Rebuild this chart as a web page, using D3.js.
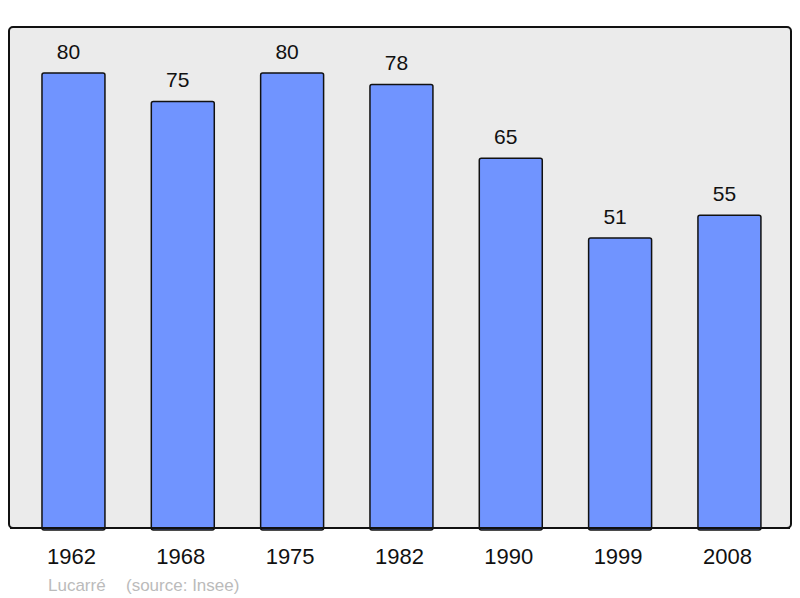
<!DOCTYPE html>
<html>
<head>
<meta charset="utf-8">
<title>Population</title>
<style>
  body { margin: 0; background: #fff; }
  svg text { font-family: "Liberation Sans", Arial, sans-serif; }
</style>
<script src="https://d3js.org/d3.v7.min.js"></script>
</head>
<body>
<svg id="chart" width="800" height="598"></svg>
<script>
var years = ["1962", "1968", "1975", "1982", "1990", "1999", "2008"];
var population = [80, 75, 80, 78, 65, 51, 55];
var credits = ["Lucarré", "(source: Insee)"];

var svg = d3.select("#chart");

// frame
var frame = { x0: 9, y0: 27, x1: 791, y1: 528 };

var x = d3.scaleBand()
    .domain(years)
    .range([18.8, 784.1])
    .paddingInner(0.424)
    .paddingOuter(0.212);

var y = d3.scaleLinear()
    .domain([0, 80])
    .range([frame.y1, 73]);

svg.append("rect")
    .attr("x", frame.x0)
    .attr("y", frame.y0)
    .attr("width", frame.x1 - frame.x0)
    .attr("height", frame.y1 - frame.y0)
    .attr("rx", 4)
    .attr("fill", "#ebebeb")
    .attr("stroke", "#111")
    .attr("stroke-width", 2);

var data = years.map(function(d, i) { return { year: d, value: population[i] }; });

svg.selectAll(".bar")
    .data(data)
    .enter().append("rect")
    .attr("class", "bar")
    .attr("x", function(d) { return x(d.year); })
    .attr("y", function(d) { return y(d.value); })
    .attr("width", x.bandwidth())
    .attr("height", function(d) { return frame.y1 - y(d.value) + 2; })
    .attr("rx", 2)
    .attr("fill", "#7094ff")
    .attr("stroke", "#111")
    .attr("stroke-width", 1.5);

// redraw bottom edge of the frame over the bars
svg.append("line")
    .attr("x1", frame.x0 + 1).attr("x2", frame.x1 - 1)
    .attr("y1", frame.y1).attr("y2", frame.y1)
    .attr("stroke", "#111")
    .attr("stroke-width", 2);

// value labels sit slightly left of the bar centre, as in the original
svg.selectAll(".val")
    .data(data)
    .enter().append("text")
    .attr("class", "val")
    .attr("x", function(d) { return x(d.year) + x.bandwidth() / 2 - 5; })
    .attr("y", function(d) { return y(d.value) - 14; })
    .attr("text-anchor", "middle")
    .attr("font-size", 21)
    .attr("fill", "#111")
    .text(function(d) { return d.value; });

var xAxis = svg.append("g")
    .attr("transform", "translate(-2," + frame.y1 + ")")
    .call(d3.axisBottom(x).tickSize(0).tickPadding(0));
xAxis.select(".domain").remove();
xAxis.selectAll("text")
    .attr("y", 36)
    .attr("dy", 0)
    .attr("font-size", 22)
    .attr("font-family", "Liberation Sans, Arial, sans-serif")
    .attr("fill", "#111");

svg.append("text")
    .attr("x", 48)
    .attr("y", 591)
    .attr("font-size", 17)
    .attr("fill", "#bbb")
    .text(credits[0]);

svg.append("text")
    .attr("x", 126)
    .attr("y", 591)
    .attr("font-size", 17)
    .attr("fill", "#bbb")
    .text(credits[1]);
</script>
</body>
</html>
